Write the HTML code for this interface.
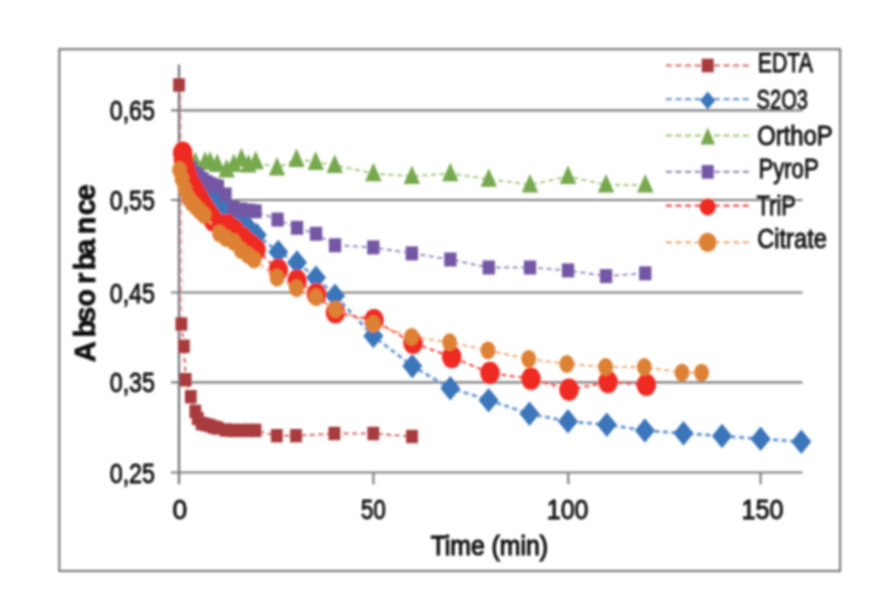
<!DOCTYPE html>
<html><head><meta charset="utf-8"><title>Absorbance vs Time</title>
<style>
html,body{margin:0;padding:0;background:#fff;}
body{width:894px;height:593px;position:relative;overflow:hidden;font-family:"Liberation Sans",sans-serif;}
svg text{font-family:"Liberation Sans",sans-serif;}
</style></head><body>
<svg width="894" height="593" viewBox="0 0 894 593" style="position:absolute;left:0;top:0">
<defs><filter id="b" x="-5%" y="-5%" width="110%" height="110%"><feGaussianBlur stdDeviation="0.9"/></filter></defs>
<rect width="894" height="593" fill="#ffffff"/>
<g filter="url(#b)">
<rect x="59.3" y="49.2" width="780.8" height="521.8" fill="none" stroke="#7d7d7d" stroke-width="2.2"/>
<line x1="171" y1="110.3" x2="802.5" y2="110.3" stroke="#7f7f7f" stroke-width="2.2"/>
<line x1="171" y1="200.0" x2="802.5" y2="200.0" stroke="#7f7f7f" stroke-width="2.2"/>
<line x1="171" y1="292.5" x2="802.5" y2="292.5" stroke="#7f7f7f" stroke-width="2.2"/>
<line x1="171" y1="382.3" x2="802.5" y2="382.3" stroke="#7f7f7f" stroke-width="2.2"/>
<line x1="171" y1="472.5" x2="802.5" y2="472.5" stroke="#7f7f7f" stroke-width="2.2"/>
<path d="M180.6,85 L181.6,324" fill="none" stroke="#F09A9C" stroke-width="1.6" stroke-dasharray="6 3.6"/>
<line x1="179" y1="64.5" x2="179" y2="484.3" stroke="#74747a" stroke-width="2.3"/>
<line x1="373.4" y1="472.5" x2="373.4" y2="484.3" stroke="#7f7f7f" stroke-width="2.2"/>
<line x1="568.3" y1="472.5" x2="568.3" y2="484.3" stroke="#7f7f7f" stroke-width="2.2"/>
<line x1="760.6" y1="472.5" x2="760.6" y2="484.3" stroke="#7f7f7f" stroke-width="2.2"/>
<path d="M181.4,324.0 L183.9,346.3 L185.7,379.7 L190.8,396.7 L195.3,411.4 L197.8,418.5 L201.6,423.5 L205.5,424.5 L209.5,425.5 L213.5,427.0 L217.5,428.0 L225.6,430.0 L233.4,430.4 L241.2,430.4 L249.0,430.4 L255.5,430.4 L276.8,435.7 L296.0,435.7 L334.4,433.5 L373.3,433.5 L412.0,436.5" fill="none" stroke="#D4676A" stroke-width="2.0" stroke-dasharray="5 3.5"/>
<rect x="173.1" y="78.3" width="11.8" height="13.4" fill="#A83B3D"/>
<rect x="175.5" y="317.3" width="11.8" height="13.4" fill="#A83B3D"/>
<rect x="178.0" y="339.6" width="11.8" height="13.4" fill="#A83B3D"/>
<rect x="179.8" y="373.0" width="11.8" height="13.4" fill="#A83B3D"/>
<rect x="184.9" y="390.0" width="11.8" height="13.4" fill="#A83B3D"/>
<rect x="189.4" y="404.7" width="11.8" height="13.4" fill="#A83B3D"/>
<rect x="191.9" y="411.8" width="11.8" height="13.4" fill="#A83B3D"/>
<rect x="195.7" y="416.8" width="11.8" height="13.4" fill="#A83B3D"/>
<rect x="199.6" y="417.8" width="11.8" height="13.4" fill="#A83B3D"/>
<rect x="203.6" y="418.8" width="11.8" height="13.4" fill="#A83B3D"/>
<rect x="207.6" y="420.3" width="11.8" height="13.4" fill="#A83B3D"/>
<rect x="211.6" y="421.3" width="11.8" height="13.4" fill="#A83B3D"/>
<rect x="219.7" y="423.3" width="11.8" height="13.4" fill="#A83B3D"/>
<rect x="227.5" y="423.7" width="11.8" height="13.4" fill="#A83B3D"/>
<rect x="235.3" y="423.7" width="11.8" height="13.4" fill="#A83B3D"/>
<rect x="243.1" y="423.7" width="11.8" height="13.4" fill="#A83B3D"/>
<rect x="249.6" y="423.7" width="11.8" height="13.4" fill="#A83B3D"/>
<rect x="270.9" y="429.0" width="11.8" height="13.4" fill="#A83B3D"/>
<rect x="290.1" y="429.0" width="11.8" height="13.4" fill="#A83B3D"/>
<rect x="328.5" y="426.8" width="11.8" height="13.4" fill="#A83B3D"/>
<rect x="367.4" y="426.8" width="11.8" height="13.4" fill="#A83B3D"/>
<rect x="406.1" y="429.8" width="11.8" height="13.4" fill="#A83B3D"/>
<path d="M182.5,154.0 L183.5,158.0 L186.8,163.0 L190.7,168.0 L194.5,175.0 L198.4,183.0 L202.3,188.0 L206.2,192.0 L210.0,194.0 L214.0,197.5 L217.9,200.5 L225.6,208.0 L233.4,215.0 L241.2,222.0 L249.0,228.5 L256.7,235.0 L278.3,251.9 L297.0,262.5 L316.0,277.6 L335.0,295.7 L373.3,336.0 L412.3,366.1 L450.3,388.2 L488.6,400.2 L529.5,413.8 L568.0,421.4 L606.8,424.6 L644.9,430.5 L683.5,433.3 L722.0,436.0 L760.6,438.9 L801.3,441.7" fill="none" stroke="#6C9BD6" stroke-width="3.0" stroke-dasharray="5 3.5"/>
<polygon points="182.5,141.8 192.5,154.0 182.5,166.2 172.5,154.0" fill="#3A74BA"/>
<polygon points="183.5,145.8 193.5,158.0 183.5,170.2 173.5,158.0" fill="#3A74BA"/>
<polygon points="186.8,150.8 196.8,163.0 186.8,175.2 176.8,163.0" fill="#3A74BA"/>
<polygon points="190.7,155.8 200.7,168.0 190.7,180.2 180.7,168.0" fill="#3A74BA"/>
<polygon points="194.5,162.8 204.5,175.0 194.5,187.2 184.5,175.0" fill="#3A74BA"/>
<polygon points="198.4,170.8 208.4,183.0 198.4,195.2 188.4,183.0" fill="#3A74BA"/>
<polygon points="202.3,175.8 212.3,188.0 202.3,200.2 192.3,188.0" fill="#3A74BA"/>
<polygon points="206.2,179.8 216.2,192.0 206.2,204.2 196.2,192.0" fill="#3A74BA"/>
<polygon points="210.0,181.8 220.0,194.0 210.0,206.2 200.0,194.0" fill="#3A74BA"/>
<polygon points="214.0,185.2 224.0,197.5 214.0,209.8 204.0,197.5" fill="#3A74BA"/>
<polygon points="217.9,188.2 227.9,200.5 217.9,212.8 207.9,200.5" fill="#3A74BA"/>
<polygon points="225.6,195.8 235.6,208.0 225.6,220.2 215.6,208.0" fill="#3A74BA"/>
<polygon points="233.4,202.8 243.4,215.0 233.4,227.2 223.4,215.0" fill="#3A74BA"/>
<polygon points="241.2,209.8 251.2,222.0 241.2,234.2 231.2,222.0" fill="#3A74BA"/>
<polygon points="249.0,216.2 259.0,228.5 249.0,240.8 239.0,228.5" fill="#3A74BA"/>
<polygon points="256.7,222.8 266.7,235.0 256.7,247.2 246.7,235.0" fill="#3A74BA"/>
<polygon points="278.3,239.7 288.3,251.9 278.3,264.1 268.3,251.9" fill="#3A74BA"/>
<polygon points="297.0,250.2 307.0,262.5 297.0,274.8 287.0,262.5" fill="#3A74BA"/>
<polygon points="316.0,265.4 326.0,277.6 316.0,289.9 306.0,277.6" fill="#3A74BA"/>
<polygon points="335.0,283.4 345.0,295.7 335.0,307.9 325.0,295.7" fill="#3A74BA"/>
<polygon points="373.3,323.8 383.3,336.0 373.3,348.2 363.3,336.0" fill="#3A74BA"/>
<polygon points="412.3,353.9 422.3,366.1 412.3,378.4 402.3,366.1" fill="#3A74BA"/>
<polygon points="450.3,375.9 460.3,388.2 450.3,400.4 440.3,388.2" fill="#3A74BA"/>
<polygon points="488.6,387.9 498.6,400.2 488.6,412.4 478.6,400.2" fill="#3A74BA"/>
<polygon points="529.5,401.6 539.5,413.8 529.5,426.1 519.5,413.8" fill="#3A74BA"/>
<polygon points="568.0,409.1 578.0,421.4 568.0,433.6 558.0,421.4" fill="#3A74BA"/>
<polygon points="606.8,412.4 616.8,424.6 606.8,436.9 596.8,424.6" fill="#3A74BA"/>
<polygon points="644.9,418.2 654.9,430.5 644.9,442.8 634.9,430.5" fill="#3A74BA"/>
<polygon points="683.5,421.1 693.5,433.3 683.5,445.6 673.5,433.3" fill="#3A74BA"/>
<polygon points="722.0,423.8 732.0,436.0 722.0,448.2 712.0,436.0" fill="#3A74BA"/>
<polygon points="760.6,426.6 770.6,438.9 760.6,451.1 750.6,438.9" fill="#3A74BA"/>
<polygon points="801.3,429.4 811.3,441.7 801.3,453.9 791.3,441.7" fill="#3A74BA"/>
<path d="M182.5,156.6 L183.5,159.6 L186.8,161.6 L190.7,162.6 L195.3,162.5 L205.1,162.1 L210.1,162.1 L217.2,164.3 L226.6,169.7 L233.8,164.3 L241.4,158.9 L248.5,164.8 L255.7,161.6 L277.0,167.9 L296.5,159.4 L315.7,162.2 L334.7,165.2 L373.4,173.6 L411.9,176.3 L450.3,173.6 L488.8,179.1 L530.0,184.9 L568.0,176.3 L606.0,184.9 L645.3,184.9" fill="none" stroke="#A6CB82" stroke-width="2.0" stroke-dasharray="5 3.5"/>
<polygon points="182.5,145.7 190.7,164.3 174.3,164.3" fill="#76A84D"/>
<polygon points="183.5,148.7 191.7,167.3 175.3,167.3" fill="#76A84D"/>
<polygon points="186.8,150.7 195.0,169.3 178.6,169.3" fill="#76A84D"/>
<polygon points="190.7,151.7 198.9,170.3 182.5,170.3" fill="#76A84D"/>
<polygon points="195.3,151.6 203.5,170.2 187.1,170.2" fill="#76A84D"/>
<polygon points="205.1,151.2 213.3,169.8 196.9,169.8" fill="#76A84D"/>
<polygon points="210.1,151.2 218.3,169.8 201.9,169.8" fill="#76A84D"/>
<polygon points="217.2,153.4 225.4,172.0 209.0,172.0" fill="#76A84D"/>
<polygon points="226.6,158.8 234.8,177.4 218.4,177.4" fill="#76A84D"/>
<polygon points="233.8,153.4 242.0,172.0 225.6,172.0" fill="#76A84D"/>
<polygon points="241.4,148.0 249.6,166.6 233.2,166.6" fill="#76A84D"/>
<polygon points="248.5,153.9 256.7,172.5 240.3,172.5" fill="#76A84D"/>
<polygon points="255.7,150.7 263.9,169.3 247.5,169.3" fill="#76A84D"/>
<polygon points="277.0,157.0 285.2,175.6 268.8,175.6" fill="#76A84D"/>
<polygon points="296.5,148.5 304.7,167.1 288.3,167.1" fill="#76A84D"/>
<polygon points="315.7,151.3 323.9,169.9 307.5,169.9" fill="#76A84D"/>
<polygon points="334.7,154.3 342.9,172.9 326.5,172.9" fill="#76A84D"/>
<polygon points="373.4,162.7 381.6,181.3 365.2,181.3" fill="#76A84D"/>
<polygon points="411.9,165.4 420.1,184.0 403.7,184.0" fill="#76A84D"/>
<polygon points="450.3,162.7 458.5,181.3 442.1,181.3" fill="#76A84D"/>
<polygon points="488.8,168.2 497.0,186.8 480.6,186.8" fill="#76A84D"/>
<polygon points="530.0,174.0 538.2,192.6 521.8,192.6" fill="#76A84D"/>
<polygon points="568.0,165.4 576.2,184.0 559.8,184.0" fill="#76A84D"/>
<polygon points="606.0,174.0 614.2,192.6 597.8,192.6" fill="#76A84D"/>
<polygon points="645.3,174.0 653.5,192.6 637.1,192.6" fill="#76A84D"/>
<path d="M182.5,154.0 L183.5,158.0 L186.8,163.0 L190.7,168.0 L194.5,173.0 L198.4,175.5 L202.3,179.0 L206.2,182.0 L210.0,184.0 L214.0,185.5 L217.9,186.5 L225.6,194.5 L233.4,208.0 L241.2,209.5 L249.0,210.5 L255.5,211.3 L277.5,219.6 L297.0,227.8 L316.0,233.8 L335.0,245.3 L373.4,247.4 L411.8,253.4 L450.4,259.5 L488.7,267.5 L530.0,267.5 L568.0,270.4 L606.0,276.1 L645.3,273.3" fill="none" stroke="#9C8CC4" stroke-width="2.0" stroke-dasharray="5 3.5"/>
<rect x="176.3" y="147.0" width="12.3" height="14" fill="#7357A4"/>
<rect x="177.3" y="151.0" width="12.3" height="14" fill="#7357A4"/>
<rect x="180.7" y="156.0" width="12.3" height="14" fill="#7357A4"/>
<rect x="184.5" y="161.0" width="12.3" height="14" fill="#7357A4"/>
<rect x="188.3" y="166.0" width="12.3" height="14" fill="#7357A4"/>
<rect x="192.2" y="168.5" width="12.3" height="14" fill="#7357A4"/>
<rect x="196.2" y="172.0" width="12.3" height="14" fill="#7357A4"/>
<rect x="200.0" y="175.0" width="12.3" height="14" fill="#7357A4"/>
<rect x="203.8" y="177.0" width="12.3" height="14" fill="#7357A4"/>
<rect x="207.8" y="178.5" width="12.3" height="14" fill="#7357A4"/>
<rect x="211.8" y="179.5" width="12.3" height="14" fill="#7357A4"/>
<rect x="219.4" y="187.5" width="12.3" height="14" fill="#7357A4"/>
<rect x="227.2" y="201.0" width="12.3" height="14" fill="#7357A4"/>
<rect x="235.0" y="202.5" width="12.3" height="14" fill="#7357A4"/>
<rect x="242.8" y="203.5" width="12.3" height="14" fill="#7357A4"/>
<rect x="249.3" y="204.3" width="12.3" height="14" fill="#7357A4"/>
<rect x="271.4" y="212.6" width="12.3" height="14" fill="#7357A4"/>
<rect x="290.9" y="220.8" width="12.3" height="14" fill="#7357A4"/>
<rect x="309.9" y="226.8" width="12.3" height="14" fill="#7357A4"/>
<rect x="328.9" y="238.3" width="12.3" height="14" fill="#7357A4"/>
<rect x="367.2" y="240.4" width="12.3" height="14" fill="#7357A4"/>
<rect x="405.7" y="246.4" width="12.3" height="14" fill="#7357A4"/>
<rect x="444.2" y="252.5" width="12.3" height="14" fill="#7357A4"/>
<rect x="482.6" y="260.5" width="12.3" height="14" fill="#7357A4"/>
<rect x="523.9" y="260.5" width="12.3" height="14" fill="#7357A4"/>
<rect x="561.9" y="263.4" width="12.3" height="14" fill="#7357A4"/>
<rect x="599.9" y="269.1" width="12.3" height="14" fill="#7357A4"/>
<rect x="639.1" y="266.3" width="12.3" height="14" fill="#7357A4"/>
<path d="M182.7,152.8 L183.5,160.0 L185.3,168.5 L187.8,176.5 L191.0,184.0 L195.0,191.0 L199.0,198.0 L202.8,204.5 L206.5,210.5 L210.0,215.5 L213.5,220.5 L227.0,225.0 L234.0,230.0 L242.0,237.5 L250.0,244.5 L256.0,249.5 L278.3,270.0 L297.0,280.6 L316.5,294.2 L335.5,312.3 L374.0,320.2 L413.0,342.9 L451.7,357.0 L490.0,373.0 L531.0,378.8 L569.0,389.7 L608.0,382.0 L646.3,384.9" fill="none" stroke="#F3504C" stroke-width="2.2" stroke-dasharray="5 3.5"/>
<ellipse cx="182.7" cy="152.8" rx="9.8" ry="11.2" fill="#EF2923"/>
<ellipse cx="183.5" cy="160.0" rx="9.8" ry="11.2" fill="#EF2923"/>
<ellipse cx="185.3" cy="168.5" rx="9.8" ry="11.2" fill="#EF2923"/>
<ellipse cx="187.8" cy="176.5" rx="9.8" ry="11.2" fill="#EF2923"/>
<ellipse cx="191.0" cy="184.0" rx="9.8" ry="11.2" fill="#EF2923"/>
<ellipse cx="195.0" cy="191.0" rx="9.8" ry="11.2" fill="#EF2923"/>
<ellipse cx="199.0" cy="198.0" rx="9.8" ry="11.2" fill="#EF2923"/>
<ellipse cx="202.8" cy="204.5" rx="9.8" ry="11.2" fill="#EF2923"/>
<ellipse cx="206.5" cy="210.5" rx="9.8" ry="11.2" fill="#EF2923"/>
<ellipse cx="210.0" cy="215.5" rx="9.8" ry="11.2" fill="#EF2923"/>
<ellipse cx="213.5" cy="220.5" rx="9.8" ry="11.2" fill="#EF2923"/>
<ellipse cx="227.0" cy="225.0" rx="9.8" ry="11.2" fill="#EF2923"/>
<ellipse cx="234.0" cy="230.0" rx="9.8" ry="11.2" fill="#EF2923"/>
<ellipse cx="242.0" cy="237.5" rx="9.8" ry="11.2" fill="#EF2923"/>
<ellipse cx="250.0" cy="244.5" rx="9.8" ry="11.2" fill="#EF2923"/>
<ellipse cx="256.0" cy="249.5" rx="9.8" ry="11.2" fill="#EF2923"/>
<ellipse cx="278.3" cy="270.0" rx="9.8" ry="11.2" fill="#EF2923"/>
<ellipse cx="297.0" cy="280.6" rx="9.8" ry="11.2" fill="#EF2923"/>
<ellipse cx="316.5" cy="294.2" rx="9.8" ry="11.2" fill="#EF2923"/>
<ellipse cx="335.5" cy="312.3" rx="9.8" ry="11.2" fill="#EF2923"/>
<ellipse cx="374.0" cy="320.2" rx="9.8" ry="11.2" fill="#EF2923"/>
<ellipse cx="413.0" cy="342.9" rx="9.8" ry="11.2" fill="#EF2923"/>
<ellipse cx="451.7" cy="357.0" rx="9.8" ry="11.2" fill="#EF2923"/>
<ellipse cx="490.0" cy="373.0" rx="9.8" ry="11.2" fill="#EF2923"/>
<ellipse cx="531.0" cy="378.8" rx="9.8" ry="11.2" fill="#EF2923"/>
<ellipse cx="569.0" cy="389.7" rx="9.8" ry="11.2" fill="#EF2923"/>
<ellipse cx="608.0" cy="382.0" rx="9.8" ry="11.2" fill="#EF2923"/>
<ellipse cx="646.3" cy="384.9" rx="9.8" ry="11.2" fill="#EF2923"/>
<path d="M179.5,170.0 L182.0,179.0 L185.0,189.0 L188.5,198.0 L192.0,203.0 L196.0,207.0 L200.0,211.0 L204.0,215.0 L219.5,233.5 L226.0,238.0 L234.0,242.0 L241.0,250.0 L248.0,255.0 L254.0,259.5 L277.0,277.6 L296.5,288.2 L316.0,297.2 L335.5,309.3 L373.3,324.0 L411.6,336.8 L449.6,342.2 L488.0,350.4 L528.8,358.9 L566.8,364.0 L605.6,367.0 L644.3,367.0 L682.0,372.6 L701.6,372.6" fill="none" stroke="#F4AC76" stroke-width="2.0" stroke-dasharray="5 3.5"/>
<ellipse cx="179.5" cy="170.0" rx="7.4" ry="8.9" fill="#DD8136"/>
<ellipse cx="182.0" cy="179.0" rx="7.4" ry="8.9" fill="#DD8136"/>
<ellipse cx="185.0" cy="189.0" rx="7.4" ry="8.9" fill="#DD8136"/>
<ellipse cx="188.5" cy="198.0" rx="7.4" ry="8.9" fill="#DD8136"/>
<ellipse cx="192.0" cy="203.0" rx="7.4" ry="8.9" fill="#DD8136"/>
<ellipse cx="196.0" cy="207.0" rx="7.4" ry="8.9" fill="#DD8136"/>
<ellipse cx="200.0" cy="211.0" rx="7.4" ry="8.9" fill="#DD8136"/>
<ellipse cx="204.0" cy="215.0" rx="7.4" ry="8.9" fill="#DD8136"/>
<ellipse cx="219.5" cy="233.5" rx="7.4" ry="8.9" fill="#DD8136"/>
<ellipse cx="226.0" cy="238.0" rx="7.4" ry="8.9" fill="#DD8136"/>
<ellipse cx="234.0" cy="242.0" rx="7.4" ry="8.9" fill="#DD8136"/>
<ellipse cx="241.0" cy="250.0" rx="7.4" ry="8.9" fill="#DD8136"/>
<ellipse cx="248.0" cy="255.0" rx="7.4" ry="8.9" fill="#DD8136"/>
<ellipse cx="254.0" cy="259.5" rx="7.4" ry="8.9" fill="#DD8136"/>
<ellipse cx="277.0" cy="277.6" rx="7.4" ry="8.9" fill="#DD8136"/>
<ellipse cx="296.5" cy="288.2" rx="7.4" ry="8.9" fill="#DD8136"/>
<ellipse cx="316.0" cy="297.2" rx="7.4" ry="8.9" fill="#DD8136"/>
<ellipse cx="335.5" cy="309.3" rx="7.4" ry="8.9" fill="#DD8136"/>
<ellipse cx="373.3" cy="324.0" rx="7.4" ry="8.9" fill="#DD8136"/>
<ellipse cx="411.6" cy="336.8" rx="7.4" ry="8.9" fill="#DD8136"/>
<ellipse cx="449.6" cy="342.2" rx="7.4" ry="8.9" fill="#DD8136"/>
<ellipse cx="488.0" cy="350.4" rx="7.4" ry="8.9" fill="#DD8136"/>
<ellipse cx="528.8" cy="358.9" rx="7.4" ry="8.9" fill="#DD8136"/>
<ellipse cx="566.8" cy="364.0" rx="7.4" ry="8.9" fill="#DD8136"/>
<ellipse cx="605.6" cy="367.0" rx="7.4" ry="8.9" fill="#DD8136"/>
<ellipse cx="644.3" cy="367.0" rx="7.4" ry="8.9" fill="#DD8136"/>
<ellipse cx="682.0" cy="372.6" rx="7.4" ry="8.9" fill="#DD8136"/>
<ellipse cx="701.6" cy="372.6" rx="7.4" ry="8.9" fill="#DD8136"/>
<line x1="665.9" y1="65.5" x2="749.4" y2="65.5" stroke="#D4676A" stroke-width="2.2" stroke-dasharray="6 3.6"/>
<rect x="701.7" y="58.7" width="12" height="13.6" fill="#A83B3D"/>
<text x="757.8" y="72.2" font-size="27" textLength="55.2" lengthAdjust="spacingAndGlyphs" fill="#0c0c0c" stroke="#0c0c0c" stroke-width="0.8">EDTA</text>
<line x1="665.9" y1="99.2" x2="749.4" y2="99.2" stroke="#6C9BD6" stroke-width="2.2" stroke-dasharray="6 3.6"/>
<polygon points="707.7,91.4 715.2,100.4 707.7,109.4 700.2,100.4" fill="#3A74BA"/>
<text x="756.6" y="108.8" font-size="27" textLength="51.3" lengthAdjust="spacingAndGlyphs" fill="#0c0c0c" stroke="#0c0c0c" stroke-width="0.8">S2O3</text>
<line x1="665.9" y1="135.7" x2="749.4" y2="135.7" stroke="#A6CB82" stroke-width="2.2" stroke-dasharray="6 3.6"/>
<polygon points="707.7,127.5 715.0,144.5 700.5,144.5" fill="#76A84D"/>
<text x="757.2" y="145.3" font-size="27" textLength="75.4" lengthAdjust="spacingAndGlyphs" fill="#0c0c0c" stroke="#0c0c0c" stroke-width="0.8">OrthoP</text>
<line x1="665.9" y1="171.9" x2="749.4" y2="171.9" stroke="#9C8CC4" stroke-width="2.2" stroke-dasharray="6 3.6"/>
<rect x="701.7" y="165.1" width="12" height="13.6" fill="#7357A4"/>
<text x="758.4" y="178.2" font-size="27" textLength="60.3" lengthAdjust="spacingAndGlyphs" fill="#0c0c0c" stroke="#0c0c0c" stroke-width="0.8">PyroP</text>
<line x1="665.9" y1="205.6" x2="749.4" y2="205.6" stroke="#F3504C" stroke-width="2.2" stroke-dasharray="6 3.6"/>
<ellipse cx="707.7" cy="207.1" rx="8" ry="8.5" fill="#EF2923"/>
<text x="756.6" y="215.3" font-size="27" textLength="39.3" lengthAdjust="spacingAndGlyphs" fill="#0c0c0c" stroke="#0c0c0c" stroke-width="0.8">TriP</text>
<line x1="665.9" y1="242.4" x2="749.4" y2="242.4" stroke="#F4AC76" stroke-width="2.2" stroke-dasharray="6 3.6"/>
<ellipse cx="707.7" cy="242.4" rx="8.8" ry="9.7" fill="#DD8136"/>
<text x="757.2" y="248.2" font-size="27" textLength="69.7" lengthAdjust="spacingAndGlyphs" fill="#0c0c0c" stroke="#0c0c0c" stroke-width="0.8">Citrate</text>
<text x="109.7" y="120.3" font-size="27" textLength="45.3" lengthAdjust="spacingAndGlyphs" fill="#0c0c0c" stroke="#0c0c0c" stroke-width="0.8">0,65</text>
<text x="109.7" y="210.0" font-size="27" textLength="45.3" lengthAdjust="spacingAndGlyphs" fill="#0c0c0c" stroke="#0c0c0c" stroke-width="0.8">0,55</text>
<text x="109.7" y="302.5" font-size="27" textLength="45.3" lengthAdjust="spacingAndGlyphs" fill="#0c0c0c" stroke="#0c0c0c" stroke-width="0.8">0,45</text>
<text x="109.7" y="392.3" font-size="27" textLength="45.3" lengthAdjust="spacingAndGlyphs" fill="#0c0c0c" stroke="#0c0c0c" stroke-width="0.8">0,35</text>
<text x="109.7" y="482.5" font-size="27" textLength="45.3" lengthAdjust="spacingAndGlyphs" fill="#0c0c0c" stroke="#0c0c0c" stroke-width="0.8">0,25</text>
<text x="172.5" y="518.5" font-size="27" textLength="14.7" lengthAdjust="spacingAndGlyphs" fill="#0c0c0c" stroke="#0c0c0c" stroke-width="0.8">0</text>
<text x="360.7" y="518.5" font-size="27" textLength="25.2" lengthAdjust="spacingAndGlyphs" fill="#0c0c0c" stroke="#0c0c0c" stroke-width="0.8">50</text>
<text x="546.8" y="518.5" font-size="27" textLength="41.6" lengthAdjust="spacingAndGlyphs" fill="#0c0c0c" stroke="#0c0c0c" stroke-width="0.8">100</text>
<text x="741.5" y="518.5" font-size="27" textLength="42.0" lengthAdjust="spacingAndGlyphs" fill="#0c0c0c" stroke="#0c0c0c" stroke-width="0.8">150</text>
<text x="430.7" y="554.9" font-size="27" textLength="117.2" lengthAdjust="spacingAndGlyphs" fill="#0c0c0c" stroke="#0c0c0c" stroke-width="1.15">Time (min)</text>
<text transform="translate(94.8,351.8) rotate(-90)" text-anchor="middle" font-size="29" font-weight="bold" fill="#0a0a0a" stroke="#0a0a0a" stroke-width="0.7">A</text>
<text transform="translate(94.8,328.6) rotate(-90)" text-anchor="middle" font-size="29" font-weight="bold" fill="#0a0a0a" stroke="#0a0a0a" stroke-width="0.7">b</text>
<text transform="translate(94.8,314.7) rotate(-90)" text-anchor="middle" font-size="29" font-weight="bold" fill="#0a0a0a" stroke="#0a0a0a" stroke-width="0.7">s</text>
<text transform="translate(94.8,297.9) rotate(-90)" text-anchor="middle" font-size="29" font-weight="bold" fill="#0a0a0a" stroke="#0a0a0a" stroke-width="0.7">o</text>
<text transform="translate(94.8,278.4) rotate(-90)" text-anchor="middle" font-size="29" font-weight="bold" fill="#0a0a0a" stroke="#0a0a0a" stroke-width="0.7">r</text>
<text transform="translate(94.8,261.3) rotate(-90)" text-anchor="middle" font-size="29" font-weight="bold" fill="#0a0a0a" stroke="#0a0a0a" stroke-width="0.7">b</text>
<text transform="translate(94.8,247.0) rotate(-90)" text-anchor="middle" font-size="29" font-weight="bold" fill="#0a0a0a" stroke="#0a0a0a" stroke-width="0.7">a</text>
<text transform="translate(94.8,225.5) rotate(-90)" text-anchor="middle" font-size="29" font-weight="bold" fill="#0a0a0a" stroke="#0a0a0a" stroke-width="0.7">n</text>
<text transform="translate(94.8,207.3) rotate(-90)" text-anchor="middle" font-size="29" font-weight="bold" fill="#0a0a0a" stroke="#0a0a0a" stroke-width="0.7">c</text>
<text transform="translate(94.8,192.5) rotate(-90)" text-anchor="middle" font-size="29" font-weight="bold" fill="#0a0a0a" stroke="#0a0a0a" stroke-width="0.7">e</text>
</g>
</svg>
</body></html>
